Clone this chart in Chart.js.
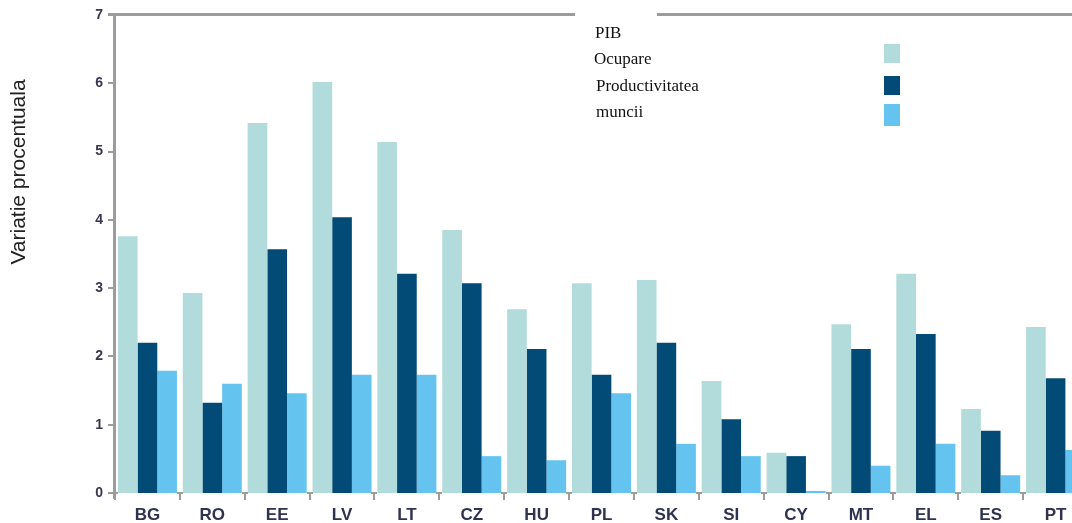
<!DOCTYPE html>
<html>
<head>
<meta charset="utf-8">
<script src="https://cdn.jsdelivr.net/npm/chart.js@4/dist/chart.umd.min.js"></script>
<style>
  html, body { margin: 0; padding: 0; background: #fff; overflow: hidden; }
  #wrap { width: 1072px; height: 523px; overflow: hidden; }
  canvas { display: block; }
</style>
</head>
<body>
<div id="wrap"><canvas id="barChart" width="1090" height="523"></canvas></div>
<script>
var countries = ["BG", "RO", "EE", "LV", "LT", "CZ", "HU", "PL", "SK", "SI", "CY", "MT", "EL", "ES", "PT"];
var pib       = [3.76, 2.93, 5.42, 6.02, 5.14, 3.85, 2.69, 3.07, 3.12, 1.64, 0.59, 2.47, 3.21, 1.23, 2.43];
var ocupare   = [2.20, 1.32, 3.57, 4.04, 3.21, 3.07, 2.11, 1.73, 2.20, 1.08, 0.54, 2.11, 2.33, 0.91, 1.68];
var productiv = [1.79, 1.60, 1.46, 1.73, 1.73, 0.54, 0.48, 1.46, 0.72, 0.54, 0.03, 0.40, 0.72, 0.26, 0.63];
var yTicks    = [0, 1, 2, 3, 4, 5, 6, 7];

var colors = ["#b2dcdb", "#024b76", "#65c4ef"];
var axisGray = "#9c9c9c";

// axis lines, tick marks, top border, legend and y title
var decorations = {
  id: "decorations",
  afterDraw: function (chart) {
    var ctx = chart.ctx;
    var area = chart.chartArea;
    var y = chart.scales.y;
    ctx.save();
    ctx.fillStyle = axisGray;

    // top border, broken where the legend sits
    ctx.fillRect(108, area.top - 2, 575 - 108, 3);
    ctx.fillRect(657, area.top - 2, 1090 - 657, 3);

    // y axis line and ticks
    ctx.fillRect(area.left - 2, area.top, 3, area.bottom + 6 - area.top);
    yTicks.forEach(function (v) {
      var py = Math.round(y.getPixelForValue(v));
      ctx.fillRect(area.left - 7, py - 1, 6, 2);
    });

    // x category boundary ticks
    for (var i = 0; i <= countries.length; i++) {
      var px = Math.round(area.left + (area.right - area.left) * i / countries.length);
      ctx.fillRect(px - 3, area.bottom - 1, 6, 2);
      ctx.fillRect(px - 1, area.bottom, 2, 7);
    }

    // legend
    ctx.fillStyle = "#111";
    ctx.font = "17px 'Liberation Serif', 'DejaVu Serif', serif";
    ctx.textBaseline = "alphabetic";
    ctx.textAlign = "left";
    ctx.fillText("PIB", 595, 38);
    ctx.fillText("Ocupare", 594, 64);
    ctx.fillText("Productivitatea", 596, 91);
    ctx.fillText("muncii", 596, 117);
    ctx.fillStyle = colors[0]; ctx.fillRect(884, 44, 16, 19);
    ctx.fillStyle = colors[1]; ctx.fillRect(884, 76, 16, 19);
    ctx.fillStyle = colors[2]; ctx.fillRect(884, 104, 16, 22);

    // y title
    ctx.translate(19, 172);
    ctx.rotate(-Math.PI / 2);
    ctx.fillStyle = "#222";
    ctx.font = "21px 'Liberation Sans', Arial, sans-serif";
    ctx.textAlign = "center";
    ctx.textBaseline = "middle";
    ctx.fillText("Variatie procentuala", 0, 0);
    ctx.restore();
  }
};

var ctx = document.getElementById("barChart");
var myBarChart = new Chart(ctx, {
  type: "bar",
  data: {
    labels: countries,
    datasets: [
      { label: "PIB", data: pib, backgroundColor: colors[0] },
      { label: "Ocupare", data: ocupare, backgroundColor: colors[1] },
      { label: "Productivitatea muncii", data: productiv, backgroundColor: colors[2] }
    ]
  },
  options: {
    responsive: false,
    devicePixelRatio: 1,
    animation: false,
    categoryPercentage: 0.91,
    barPercentage: 1.0,
    layout: { padding: { top: 15, right: 2, left: 0, bottom: 0 } },
    plugins: {
      legend: { display: false },
      tooltip: { enabled: false }
    },
    scales: {
      x: {
        offset: true,
        grid: { display: false },
        border: { display: false },
        ticks: {
          color: "#2d3350",
          padding: 4,
          font: { family: "'Liberation Sans', Arial, sans-serif", size: 17, weight: "bold" }
        },
        afterFit: function (scale) { scale.height = 30; }
      },
      y: {
        min: 0,
        max: 7,
        grid: { display: false },
        border: { display: false },
        ticks: {
          stepSize: 1,
          color: "#3a3550",
          padding: 4,
          font: { family: "'Liberation Sans', Arial, sans-serif", size: 14, weight: "bold" }
        },
        afterFit: function (scale) {
          scale.width = 115;
          scale.paddingTop = 0;
          scale.paddingBottom = 0;
        }
      }
    }
  },
  plugins: [decorations]
});
</script>
</body>
</html>
